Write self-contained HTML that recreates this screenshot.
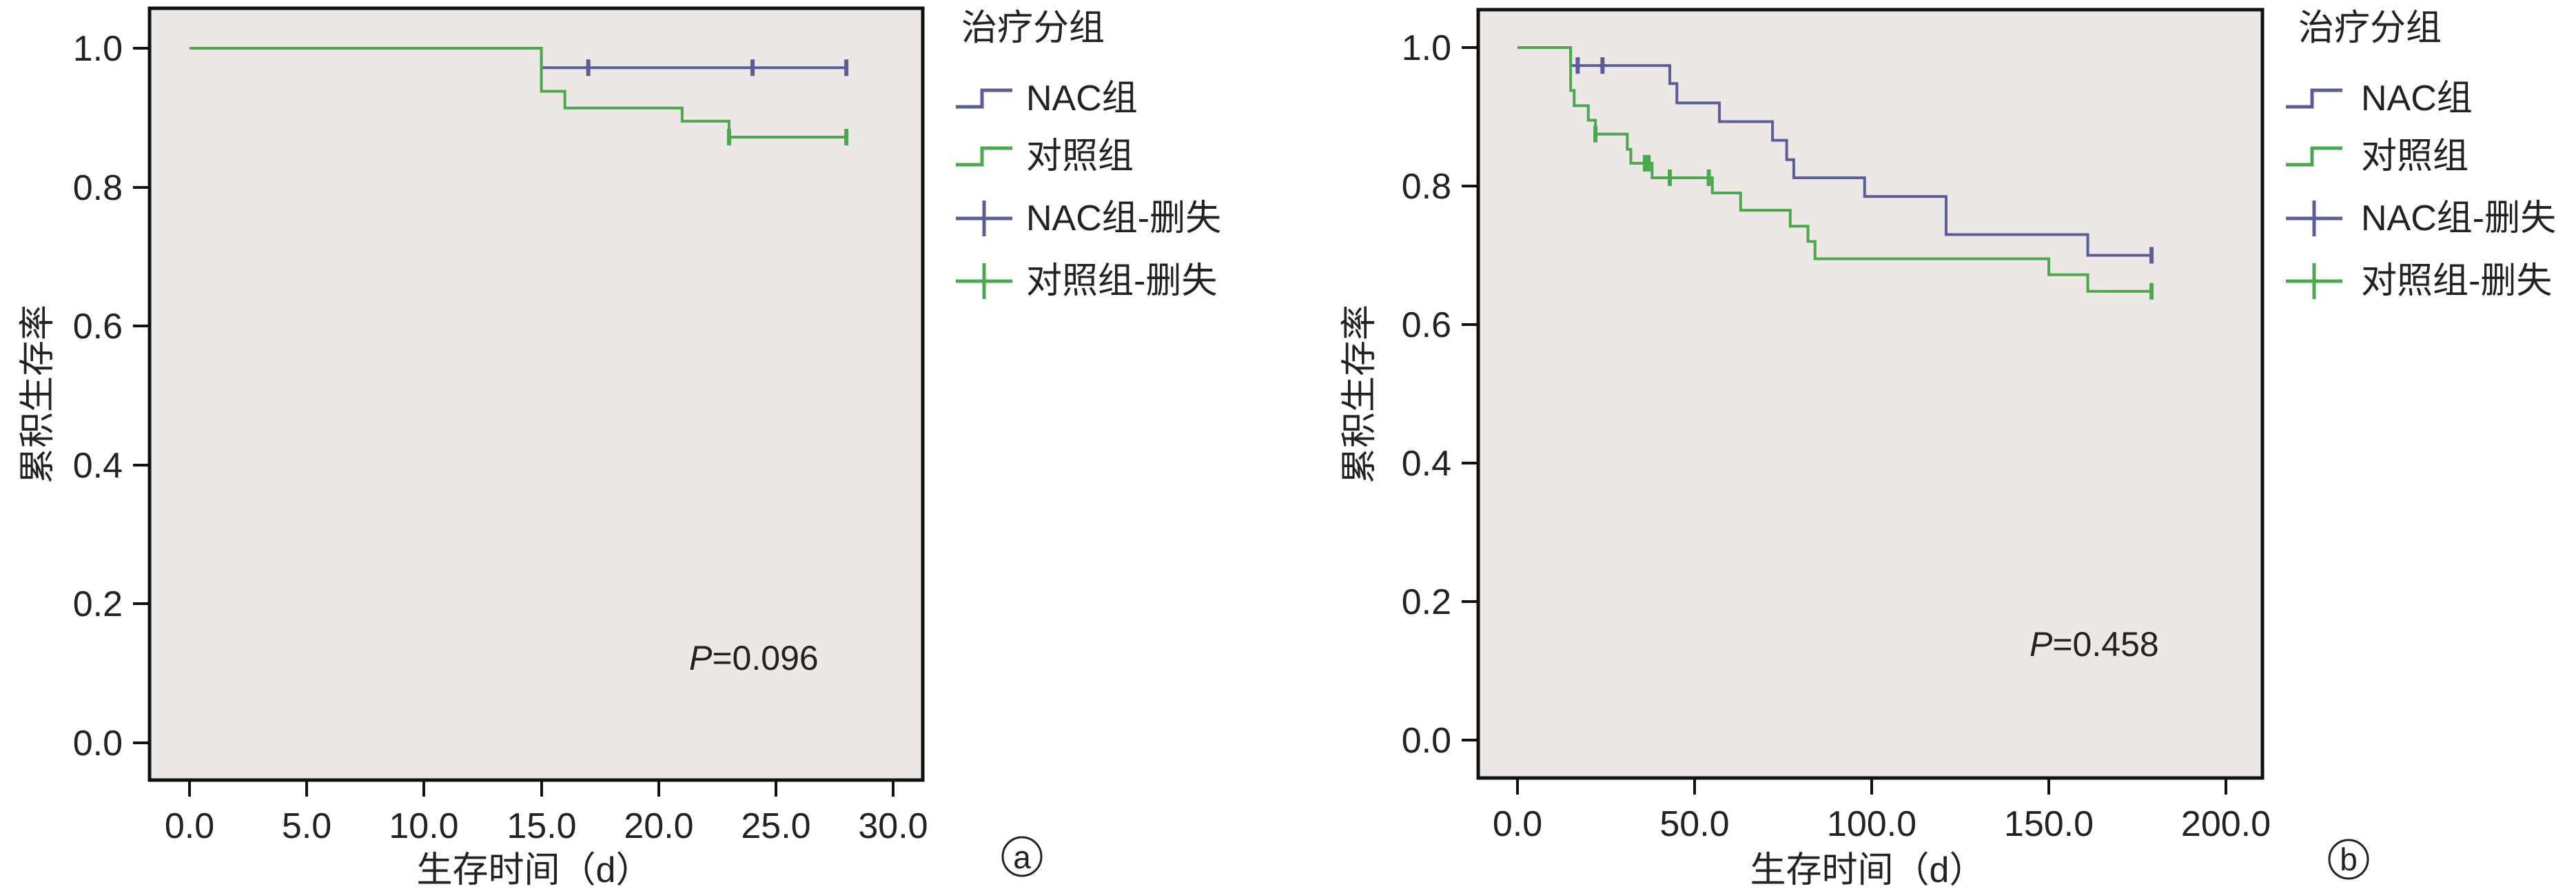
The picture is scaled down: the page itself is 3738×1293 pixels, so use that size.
<!DOCTYPE html>
<html><head><meta charset="utf-8"><style>
html,body{margin:0;padding:0;background:#fff;}
svg{display:block;}
text{font-family:"Liberation Sans","Noto Sans CJK SC",sans-serif;fill:#222;}
</style></head><body>
<svg id="s" width="3738" height="1293" viewBox="0 0 3738 1293" xmlns="http://www.w3.org/2000/svg">
<rect x="0" y="0" width="3738" height="1293" fill="#fff"/>
<!-- Panel a -->
<rect x="217" y="12" width="1122" height="1120" fill="#ede8e5" stroke="#111" stroke-width="5"/>
<g font-size="52" text-anchor="end">
<text x="178" y="88">1.0</text><text x="178" y="290">0.8</text><text x="178" y="491">0.6</text>
<text x="178" y="693">0.4</text><text x="178" y="894">0.2</text><text x="178" y="1096">0.0</text>
</g>
<g stroke="#111" stroke-width="4">
<line x1="193" y1="70" x2="217" y2="70"/><line x1="193" y1="272" x2="217" y2="272"/><line x1="193" y1="473" x2="217" y2="473"/>
<line x1="193" y1="675" x2="217" y2="675"/><line x1="193" y1="876" x2="217" y2="876"/><line x1="193" y1="1078" x2="217" y2="1078"/>
<line x1="275" y1="1132" x2="275" y2="1156"/><line x1="445" y1="1132" x2="445" y2="1156"/><line x1="615" y1="1132" x2="615" y2="1156"/>
<line x1="786" y1="1132" x2="786" y2="1156"/><line x1="956" y1="1132" x2="956" y2="1156"/><line x1="1126" y1="1132" x2="1126" y2="1156"/><line x1="1296" y1="1132" x2="1296" y2="1156"/>
</g>
<g font-size="52" text-anchor="middle">
<text x="275" y="1216">0.0</text><text x="445" y="1216">5.0</text><text x="615" y="1216">10.0</text><text x="786" y="1216">15.0</text>
<text x="956" y="1216">20.0</text><text x="1126" y="1216">25.0</text><text x="1296" y="1216">30.0</text>
<text x="775" y="1280">生存时间（d）</text>
</g>
<text font-size="52" transform="translate(72,572) rotate(-90)" text-anchor="middle">累积生存率</text>
<text x="1000" y="972" font-size="50"><tspan font-style="italic">P</tspan>=0.096</text>
<circle cx="1483" cy="1243" r="28" fill="none" stroke="#222" stroke-width="3"/>
<text x="1483" y="1260" font-size="46" text-anchor="middle">a</text>
<g font-size="52">
<text x="1395" y="58">治疗分组</text>
<text x="1489" y="160">NAC组</text><text x="1489" y="244">对照组</text>
<text x="1489" y="334">NAC组-删失</text><text x="1489" y="425">对照组-删失</text>
</g>
<!-- Panel b -->
<rect x="2145" y="14" width="1138" height="1115" fill="#ede8e5" stroke="#111" stroke-width="5"/>
<g font-size="52" text-anchor="end">
<text x="2106" y="87">1.0</text><text x="2106" y="288">0.8</text><text x="2106" y="489">0.6</text>
<text x="2106" y="690">0.4</text><text x="2106" y="891">0.2</text><text x="2106" y="1092">0.0</text>
</g>
<g stroke="#111" stroke-width="4">
<line x1="2121" y1="69" x2="2145" y2="69"/><line x1="2121" y1="270" x2="2145" y2="270"/><line x1="2121" y1="471" x2="2145" y2="471"/>
<line x1="2121" y1="672" x2="2145" y2="672"/><line x1="2121" y1="873" x2="2145" y2="873"/><line x1="2121" y1="1074" x2="2145" y2="1074"/>
<line x1="2202" y1="1129" x2="2202" y2="1153"/><line x1="2459" y1="1129" x2="2459" y2="1153"/><line x1="2716" y1="1129" x2="2716" y2="1153"/>
<line x1="2973" y1="1129" x2="2973" y2="1153"/><line x1="3230" y1="1129" x2="3230" y2="1153"/>
</g>
<g font-size="52" text-anchor="middle">
<text x="2202" y="1213">0.0</text><text x="2459" y="1213">50.0</text><text x="2716" y="1213">100.0</text>
<text x="2973" y="1213">150.0</text><text x="3230" y="1213">200.0</text>
<text x="2710" y="1280">生存时间（d）</text>
</g>
<text font-size="52" transform="translate(1990,572) rotate(-90)" text-anchor="middle">累积生存率</text>
<text x="2945" y="952" font-size="50"><tspan font-style="italic">P</tspan>=0.458</text>
<circle cx="3408" cy="1247" r="28" fill="none" stroke="#222" stroke-width="3"/>
<text x="3408" y="1263" font-size="46" text-anchor="middle">b</text>
<g font-size="52">
<text x="3335" y="58">治疗分组</text>
<text x="3426" y="160">NAC组</text><text x="3426" y="244">对照组</text>
<text x="3426" y="334">NAC组-删失</text><text x="3426" y="425">对照组-删失</text>
</g>
<g id="curves" fill="none" stroke-width="4"></g>
</svg>
<script>
var NAV="#5c5c9a", GR="#4aa84e";
var g=document.getElementById('curves');
function add(tag,attrs){var e=document.createElementNS('http://www.w3.org/2000/svg',tag);for(var k in attrs)e.setAttribute(k,attrs[k]);g.appendChild(e);}
function km(steps,end,censors,x0,xs,y0,ys,col){
  var py=y0-ys*1;
  var d="M"+x0+" "+py;
  for(var i=1;i<steps.length;i++){var x=x0+xs*steps[i][0],y=y0-ys*steps[i][1];d+=" H"+x+" V"+y;}
  d+=" H"+(x0+xs*end);
  add('path',{d:d,stroke:col});
  censors.forEach(function(t){
    var s=1;for(var i=0;i<steps.length;i++)if(steps[i][0]<=t)s=steps[i][1];
    var x=x0+xs*t,y=y0-ys*s;
    add('line',{x1:x,y1:y-12,x2:x,y2:y+12,stroke:col,'stroke-width':6});
  });
}
function legStep(x,y,col){add('path',{d:"M"+x+" "+(y+12)+" H"+(x+38)+" V"+(y-12)+" H"+(x+82),stroke:col,'stroke-width':5});}
function legCross(x,y,col){add('line',{x1:x,y1:y,x2:x+82,y2:y,stroke:col,'stroke-width':5});add('line',{x1:x+41,y1:y-26,x2:x+41,y2:y+26,stroke:col,'stroke-width':5});}
legStep(1387,143,NAV);legStep(1387,227,GR);legCross(1387,317,NAV);legCross(1387,408,GR);
legStep(3317,143,NAV);legStep(3317,227,GR);legCross(3317,317,NAV);legCross(3317,408,GR);
var ax=275,axs=170.2/5,ay=1078,ays=1008;
km([[0,1],[15,0.972]],28,[17,24,28],ax,axs,ay,ays,NAV);
km([[0,1],[15,0.938],[16,0.914],[21,0.895],[23,0.872]],28,[23,28],ax,axs,ay,ays,GR);
var bx=2202,bxs=257/50,by=1074,bys=1005;
km([[0,1],[15,0.974],[43,0.948],[45,0.92],[57,0.893],[72,0.866],[76,0.838],[78,0.812],[98,0.785],[121,0.73],[161,0.70]],179,[17,24,179],bx,bxs,by,bys,NAV);
km([[0,1],[15,0.938],[16,0.916],[20,0.895],[22,0.875],[31,0.853],[32,0.833],[38,0.812],[55,0.79],[63,0.765],[77,0.742],[82,0.72],[84,0.695],[150,0.672],[161,0.648]],179,[22,36,37,43,54,179],bx,bxs,by,bys,GR);
</script>
</body></html>
